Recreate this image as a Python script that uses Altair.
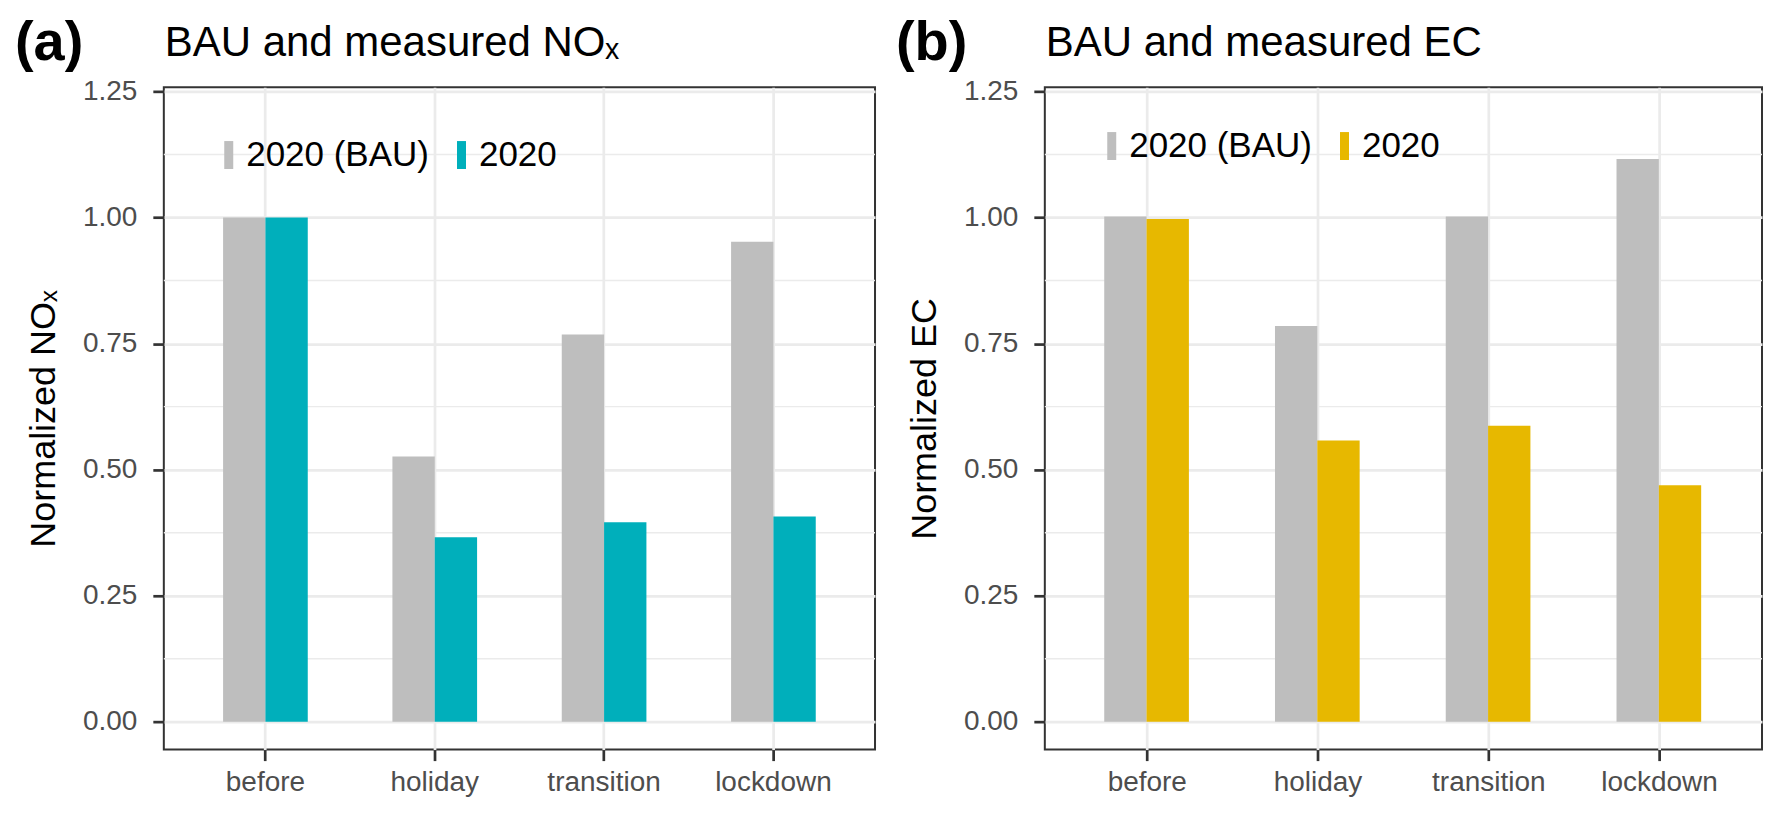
import altair as alt
import pandas as pd

FONT = "Liberation Sans"

PERIODS = ["before", "holiday", "transition", "lockdown"]
SERIES = ["2020 (BAU)", "2020"]
NOX_BAU = [1.000, 0.526, 0.768, 0.952]
NOX_2020 = [1.000, 0.366, 0.396, 0.407]
EC_BAU = [1.002, 0.785, 1.002, 1.116]
EC_2020 = [0.997, 0.558, 0.587, 0.469]
Y_TICKS = [0.0, 0.25, 0.5, 0.75, 1.0, 1.25]
Y_MINOR = [0.125, 0.375, 0.625, 0.875, 1.125]
TAGS = ["(a)", "(b)"]
TITLES = ["BAU and measured NO\u2093", "BAU and measured EC"]
Y_TITLES = ["Normalized NO\u2093", "Normalized EC"]
COLORS_A = ["#BEBEBE", "#00AFBB"]
COLORS_B = ["#BEBEBE", "#E7B800"]

BAR_PATH = "M-0.643,-2L0.643,-2L0.643,2L-0.643,2Z"


def panel(bau, meas, colors, tag, title, ytitle, width, height, legend_x, legend_y):
    rows = []
    for p, b, m in zip(PERIODS, bau, meas):
        rows.append({"period": p, "series": SERIES[0], "value": b})
        rows.append({"period": p, "series": SERIES[1], "value": m})
    df = pd.DataFrame(rows)

    yscale = alt.Scale(domain=[-0.055, 1.258], nice=False, zero=False)
    yaxis = alt.Axis(values=Y_TICKS, format=".2f", title=ytitle,
                     labelPadding=16, titlePadding=20)

    minor = alt.Chart(pd.DataFrame({"m": Y_MINOR})).mark_rule(
        color="#EBEBEB", strokeWidth=1.4
    ).encode(y=alt.Y("m:Q", scale=yscale, axis=yaxis))

    bars = alt.Chart(df).mark_bar().encode(
        x=alt.X(
            "period:N",
            sort=PERIODS,
            scale=alt.Scale(paddingInner=0, paddingOuter=0.1),
            axis=alt.Axis(title=None, labelAngle=0, grid=True, bandPosition=0.5,
                          labelPadding=8),
        ),
        xOffset=alt.XOffset(
            "series:N", sort=SERIES,
            scale=alt.Scale(paddingInner=0, paddingOuter=1),
        ),
        y=alt.Y("value:Q", scale=yscale, axis=yaxis),
        y2=alt.datum(0),
        color=alt.Color(
            "series:N",
            sort=SERIES,
            scale=alt.Scale(domain=SERIES, range=colors),
            legend=alt.Legend(
                title=None, orient="none", direction="horizontal",
                legendX=legend_x, legendY=legend_y,
                symbolType=BAR_PATH, symbolSize=196, symbolStrokeWidth=0,
                symbolOpacity=1, labelFontSize=35, labelColor="black",
                labelFont=FONT, labelOffset=0, columnPadding=15, padding=0,
                labelLimit=0,
            ),
        ),
    )

    tag_text = alt.Chart(pd.DataFrame({"t": [tag]})).mark_text(
        align="left", baseline="alphabetic", fontSize=56, fontWeight="bold",
        font=FONT, color="black",
    ).encode(x=alt.value(-149), y=alt.value(-27), text="t:N")

    title_text = alt.Chart(pd.DataFrame({"t": [title]})).mark_text(
        align="left", baseline="alphabetic", fontSize=42,
        font=FONT, color="black",
    ).encode(x=alt.value(1), y=alt.value(-31), text="t:N")

    return alt.layer(minor, bars, tag_text, title_text).properties(
        width=width,
        height=height,
    )


pa = panel(NOX_BAU, NOX_2020, COLORS_A, TAGS[0], TITLES[0], Y_TITLES[0], 712, 663, 47.5, 50)
pb = panel(EC_BAU, EC_2020, COLORS_B, TAGS[1], TITLES[1], Y_TITLES[1], 718, 663, 49.5, 41)

chart = alt.hconcat(pa, pb, spacing=18).resolve_scale(
    color="independent"
).properties(
    padding={"left": 6, "top": 6, "right": 5, "bottom": 5},
    background="white",
).configure_axis(
    labelFont=FONT, titleFont=FONT, labelFontSize=28, labelColor="#4D4D4D",
    titleFontSize=36, titleColor="black", titleFontWeight="normal",
    tickColor="#333333", tickWidth=2.7, tickSize=11, domain=False,
    gridColor="#EBEBEB", gridWidth=2.7,
).configure_view(
    stroke="#333333", strokeWidth=2,
)

chart.save("out.html", embed_options={"renderer": "svg", "actions": False})
